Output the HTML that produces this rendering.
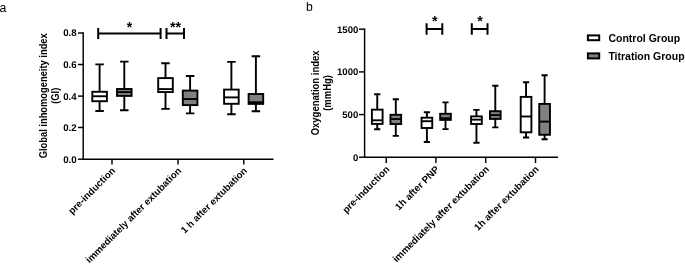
<!DOCTYPE html>
<html><head><meta charset="utf-8"><title>Figure</title>
<style>
html,body{margin:0;padding:0;background:#fff;}
svg{display:block;font-family:"Liberation Sans",sans-serif;}
.b{font-weight:bold;}
</style></head><body>
<svg width="685" height="266" viewBox="0 0 685 266">
<rect width="685" height="266" fill="#fff"/>
<text x="-0.5" y="11.6" font-size="12.3">a</text>
<text x="306" y="11.2" font-size="12.2">b</text>
<path d="M83.2 32.28V159.2" stroke="#000" stroke-width="1.45" fill="none"/>
<path d="M82.48 159.2H273.5" stroke="#000" stroke-width="1.45" fill="none"/>
<path d="M78 33H83.2" stroke="#000" stroke-width="1.45"/>
<text class="b" font-size="9.7" text-anchor="end" transform="translate(76.7,36.40) skewX(0.05)">0.8</text>
<path d="M78 64.5H83.2" stroke="#000" stroke-width="1.45"/>
<text class="b" font-size="9.7" text-anchor="end" transform="translate(76.7,67.90) skewX(0.05)">0.6</text>
<path d="M78 96.1H83.2" stroke="#000" stroke-width="1.45"/>
<text class="b" font-size="9.7" text-anchor="end" transform="translate(76.7,99.50) skewX(0.05)">0.4</text>
<path d="M78 127.5H83.2" stroke="#000" stroke-width="1.45"/>
<text class="b" font-size="9.7" text-anchor="end" transform="translate(76.7,130.90) skewX(0.05)">0.2</text>
<path d="M78 159.2H83.2" stroke="#000" stroke-width="1.45"/>
<text class="b" font-size="9.7" text-anchor="end" transform="translate(76.7,162.60) skewX(0.05)">0.0</text>
<path d="M112 159.2V164.5" stroke="#000" stroke-width="1.45"/>
<path d="M178 159.2V164.5" stroke="#000" stroke-width="1.45"/>
<path d="M243.8 159.2V164.5" stroke="#000" stroke-width="1.45"/>
<path d="M99.60 64.40V91.80M99.60 101.20V111.00M95.35 64.40H103.85M95.35 111.00H103.85" stroke="#000" stroke-width="1.9" fill="none"/>
<rect x="92.30" y="91.80" width="14.60" height="9.40" fill="#fff" stroke="#000" stroke-width="1.9"/>
<path d="M92.30 96.25H106.90" stroke="#000" stroke-width="1.9"/>
<path d="M124.30 61.60V89.00M124.30 95.90V110.25M120.05 61.60H128.55M120.05 110.25H128.55" stroke="#000" stroke-width="1.9" fill="none"/>
<rect x="117.00" y="89.00" width="14.60" height="6.90" fill="#808080" stroke="#000" stroke-width="1.9"/>
<path d="M117.00 92.10H131.60" stroke="#000" stroke-width="1.9"/>
<path d="M165.50 63.25V78.10M165.50 92.05V108.90M161.25 63.25H169.75M161.25 108.90H169.75" stroke="#000" stroke-width="1.9" fill="none"/>
<rect x="158.20" y="78.10" width="14.60" height="13.95" fill="#fff" stroke="#000" stroke-width="1.9"/>
<path d="M158.20 89.10H172.80" stroke="#000" stroke-width="1.9"/>
<path d="M190.10 76.05V90.60M190.10 105.10V113.40M185.85 76.05H194.35M185.85 113.40H194.35" stroke="#000" stroke-width="1.9" fill="none"/>
<rect x="182.80" y="90.60" width="14.60" height="14.50" fill="#808080" stroke="#000" stroke-width="1.9"/>
<path d="M182.80 99.05H197.40" stroke="#000" stroke-width="1.9"/>
<path d="M231.40 61.90V89.60M231.40 103.80V114.25M227.15 61.90H235.65M227.15 114.25H235.65" stroke="#000" stroke-width="1.9" fill="none"/>
<rect x="224.10" y="89.60" width="14.60" height="14.20" fill="#fff" stroke="#000" stroke-width="1.9"/>
<path d="M224.10 97.40H238.70" stroke="#000" stroke-width="1.9"/>
<path d="M255.90 56.25V94.00M255.90 103.90V111.20M251.65 56.25H260.15M251.65 111.20H260.15" stroke="#000" stroke-width="1.9" fill="none"/>
<rect x="248.60" y="94.00" width="14.60" height="9.90" fill="#808080" stroke="#000" stroke-width="1.9"/>
<path d="M248.60 102.20H263.20" stroke="#000" stroke-width="1.9"/>
<path d="M98.2 33.5H160.6M98.2 28.1V38.9M160.6 28.1V38.9" stroke="#000" stroke-width="2" fill="none"/>
<path d="M166.5 33.5H184M166.5 28.1V38.9M184 28.1V38.9" stroke="#000" stroke-width="2" fill="none"/>
<text class="b" x="129.5" y="31.6" font-size="14.2" text-anchor="middle">*</text>
<text class="b" x="175.4" y="31.6" font-size="14.2" text-anchor="middle">**</text>
<text class="b" font-size="10.4" text-anchor="middle" transform="translate(46.9,95.8) rotate(-90) scale(0.899,1)">Global inhomogeneity index</text>
<text class="b" font-size="10.4" text-anchor="middle" transform="translate(58.6,95.8) rotate(-90) scale(0.899,1)">(GI)</text>
<text class="b" font-size="9.65" text-anchor="end" transform="translate(115.8,171.3) rotate(-45)">pre-induction</text>
<text class="b" font-size="9.65" text-anchor="end" transform="translate(181.8,171.3) rotate(-45)">immediately after extubation</text>
<text class="b" font-size="9.65" text-anchor="end" transform="translate(247.60000000000002,171.3) rotate(-45)">1 h after extubation</text>
<path d="M364.6 28.48V157.2" stroke="#000" stroke-width="1.45" fill="none"/>
<path d="M363.88 157.2H558.1" stroke="#000" stroke-width="1.45" fill="none"/>
<path d="M359 29.2H364.6" stroke="#000" stroke-width="1.45"/>
<text class="b" font-size="9.6" text-anchor="end" transform="translate(358.3,32.60) skewX(0.05)">1500</text>
<path d="M359 71.9H364.6" stroke="#000" stroke-width="1.45"/>
<text class="b" font-size="9.6" text-anchor="end" transform="translate(358.3,75.30) skewX(0.05)">1000</text>
<path d="M359 114.6H364.6" stroke="#000" stroke-width="1.45"/>
<text class="b" font-size="9.6" text-anchor="end" transform="translate(358.3,118.00) skewX(0.05)">500</text>
<path d="M359 157.2H364.6" stroke="#000" stroke-width="1.45"/>
<text class="b" font-size="9.6" text-anchor="end" transform="translate(358.3,160.60) skewX(0.05)">0</text>
<path d="M386.25 157.2V163" stroke="#000" stroke-width="1.45"/>
<path d="M435.9 157.2V163" stroke="#000" stroke-width="1.45"/>
<path d="M485.7 157.2V163" stroke="#000" stroke-width="1.45"/>
<path d="M535.5 157.2V163" stroke="#000" stroke-width="1.45"/>
<path d="M377.25 94.30V109.65M377.25 123.90V129.30M374.15 94.30H380.35M374.15 129.30H380.35" stroke="#000" stroke-width="1.9" fill="none"/>
<rect x="371.90" y="109.65" width="10.70" height="14.25" fill="#fff" stroke="#000" stroke-width="1.9"/>
<path d="M371.90 120.30H382.60" stroke="#000" stroke-width="1.9"/>
<path d="M395.80 99.20V114.80M395.80 124.00V135.85M392.70 99.20H398.90M392.70 135.85H398.90" stroke="#000" stroke-width="1.9" fill="none"/>
<rect x="390.45" y="114.80" width="10.70" height="9.20" fill="#808080" stroke="#000" stroke-width="1.9"/>
<path d="M390.45 119.00H401.15" stroke="#000" stroke-width="1.9"/>
<path d="M426.90 112.20V117.70M426.90 128.00V142.05M423.80 112.20H430.00M423.80 142.05H430.00" stroke="#000" stroke-width="1.9" fill="none"/>
<rect x="421.55" y="117.70" width="10.70" height="10.30" fill="#fff" stroke="#000" stroke-width="1.9"/>
<path d="M421.55 121.20H432.25" stroke="#000" stroke-width="1.9"/>
<path d="M445.50 102.40V113.80M445.50 119.90V129.10M442.40 102.40H448.60M442.40 129.10H448.60" stroke="#000" stroke-width="1.9" fill="none"/>
<rect x="440.15" y="113.80" width="10.70" height="6.10" fill="#808080" stroke="#000" stroke-width="1.9"/>
<path d="M440.15 118.20H450.85" stroke="#000" stroke-width="1.9"/>
<path d="M476.45 109.90V116.40M476.45 124.00V142.75M473.35 109.90H479.55M473.35 142.75H479.55" stroke="#000" stroke-width="1.9" fill="none"/>
<rect x="471.10" y="116.40" width="10.70" height="7.60" fill="#fff" stroke="#000" stroke-width="1.9"/>
<path d="M471.10 119.65H481.80" stroke="#000" stroke-width="1.9"/>
<path d="M495.30 85.75V111.20M495.30 118.90V127.40M492.20 85.75H498.40M492.20 127.40H498.40" stroke="#000" stroke-width="1.9" fill="none"/>
<rect x="489.95" y="111.20" width="10.70" height="7.70" fill="#808080" stroke="#000" stroke-width="1.9"/>
<path d="M489.95 115.10H500.65" stroke="#000" stroke-width="1.9"/>
<path d="M526.05 82.25V96.90M526.05 132.30V137.55M522.95 82.25H529.15M522.95 137.55H529.15" stroke="#000" stroke-width="1.9" fill="none"/>
<rect x="520.70" y="96.90" width="10.70" height="35.40" fill="#fff" stroke="#000" stroke-width="1.9"/>
<path d="M520.70 116.50H531.40" stroke="#000" stroke-width="1.9"/>
<path d="M544.60 75.30V103.90M544.60 134.80V139.20M541.50 75.30H547.70M541.50 139.20H547.70" stroke="#000" stroke-width="1.9" fill="none"/>
<rect x="539.25" y="103.90" width="10.70" height="30.90" fill="#808080" stroke="#000" stroke-width="1.9"/>
<path d="M539.25 121.60H549.95" stroke="#000" stroke-width="1.9"/>
<path d="M426.6 29H442.3M426.6 23.35V34.65M442.3 23.35V34.65" stroke="#000" stroke-width="2" fill="none"/>
<path d="M471.8 29H487.5M471.8 23.35V34.65M487.5 23.35V34.65" stroke="#000" stroke-width="2" fill="none"/>
<text class="b" x="434.7" y="26.1" font-size="14.2" text-anchor="middle">*</text>
<text class="b" x="480" y="26.1" font-size="14.2" text-anchor="middle">*</text>
<text class="b" font-size="10.6" text-anchor="middle" transform="translate(318.9,92.9) rotate(-90) scale(0.896,1)">Oxygenation index</text>
<text class="b" font-size="10.6" text-anchor="middle" transform="translate(330.7,92.9) rotate(-90) scale(0.896,1)">(mmHg)</text>
<text class="b" font-size="9.7" text-anchor="end" transform="translate(390.15,169.9) rotate(-45)">pre-induction</text>
<text class="b" font-size="9.7" text-anchor="end" transform="translate(439.79999999999995,169.9) rotate(-45)">1h after PNP</text>
<text class="b" font-size="9.7" text-anchor="end" transform="translate(489.59999999999997,169.9) rotate(-45)">immediately after extubation</text>
<text class="b" font-size="9.7" text-anchor="end" transform="translate(539.4,169.9) rotate(-45)">1h after extubation</text>
<rect x="587.9" y="35.4" width="11.3" height="4.8" fill="#fff" stroke="#000" stroke-width="2"/>
<rect x="587.9" y="53.4" width="11.3" height="5" fill="#808080" stroke="#000" stroke-width="2"/>
<text class="b" x="608.4" y="42.3" font-size="10.5">Control Group</text>
<text class="b" x="608.4" y="60.3" font-size="10.5">Titration Group</text>
</svg></body></html>
